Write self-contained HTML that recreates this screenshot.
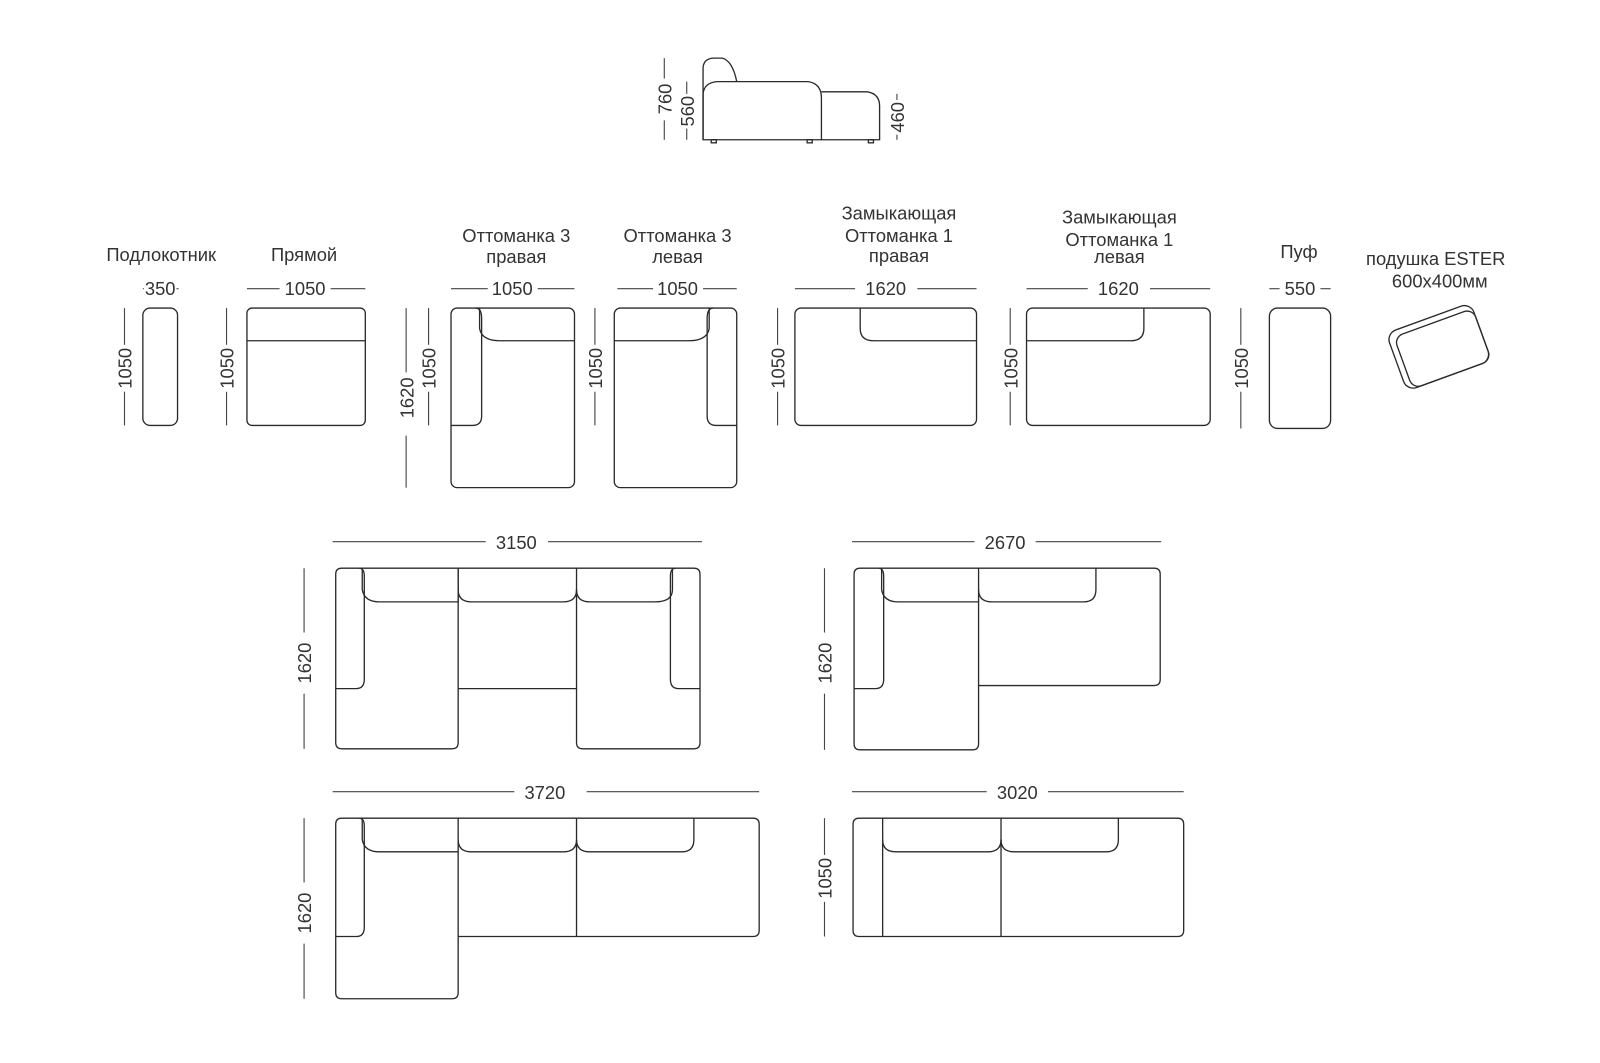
<!DOCTYPE html>
<html><head><meta charset="utf-8"><style>
html,body{margin:0;padding:0;background:#fff}
svg{display:block}
text{font-family:"Liberation Sans","DejaVu Sans",sans-serif;font-size:18px;fill:#333}
.s{fill:none;stroke:#2a2a2a;stroke-width:1.3}
.d{stroke:#444;stroke-width:1.1}
</style></head><body>
<svg width="1600" height="1063" viewBox="0 0 1568 1042" preserveAspectRatio="none" xmlns="http://www.w3.org/2000/svg">
<!-- side view -->
<path class="s" d="M689 137 L689 66 Q690 57 700 57 L708 57 Q718 60 722 80"/>
<path class="s" d="M689 137 L689 92 Q690 81 703 80 L792 80 Q805 82 805 96 L805 137 Z"/>
<path class="s" d="M805 90 L850 90 Q862 92 862 104 L862 137 L805 137"/>
<rect class="s" x="697" y="137" width="5" height="3"/><rect class="s" x="791" y="137" width="5" height="3"/><rect class="s" x="851" y="137" width="5" height="3"/>
<line class="d" x1="651" y1="57" x2="651" y2="77"/><line class="d" x1="651" y1="118" x2="651" y2="137"/>
<text transform="translate(658,97) rotate(-90)" text-anchor="middle">760</text>
<line class="d" x1="673" y1="80" x2="673" y2="92"/><line class="d" x1="673" y1="126" x2="673" y2="137"/>
<text transform="translate(680,109) rotate(-90)" text-anchor="middle">560</text>
<line class="d" x1="879" y1="92" x2="879" y2="98"/><line class="d" x1="879" y1="132" x2="879" y2="137"/>
<text transform="translate(886,115) rotate(-90)" text-anchor="middle">460</text>

<!-- labels -->
<text x="158" y="256" text-anchor="middle">Подлокотник</text>
<text x="298" y="256" text-anchor="middle">Прямой</text>
<text x="506" y="237" text-anchor="middle">Оттоманка 3</text><text x="506" y="258" text-anchor="middle">правая</text>
<text x="664" y="237" text-anchor="middle">Оттоманка 3</text><text x="664" y="258" text-anchor="middle">левая</text>
<text x="881" y="215" text-anchor="middle">Замыкающая</text><text x="881" y="237" text-anchor="middle">Оттоманка 1</text><text x="881" y="257" text-anchor="middle">правая</text>
<text x="1097" y="219" text-anchor="middle">Замыкающая</text><text x="1097" y="241" text-anchor="middle">Оттоманка 1</text><text x="1097" y="258" text-anchor="middle">левая</text>
<text x="1273" y="253" text-anchor="middle">Пуф</text>
<text x="1407" y="260" text-anchor="middle">подушка ESTER</text><text x="1411" y="282" text-anchor="middle">600x400мм</text>

<!-- top dims -->
<text x="157" y="289" text-anchor="middle">350</text><line class="d" x1="140" y1="283" x2="141" y2="283"/><line class="d" x1="173" y1="283" x2="175" y2="283"/>
<line class="d" x1="242" y1="283" x2="274" y2="283"/><line class="d" x1="324" y1="283" x2="358" y2="283"/><text x="299" y="289" text-anchor="middle">1050</text>
<line class="d" x1="442" y1="283" x2="478" y2="283"/><line class="d" x1="527" y1="283" x2="563" y2="283"/><text x="502" y="289" text-anchor="middle">1050</text>
<line class="d" x1="605" y1="283" x2="640" y2="283"/><line class="d" x1="689" y1="283" x2="722" y2="283"/><text x="664" y="289" text-anchor="middle">1050</text>
<line class="d" x1="779" y1="283" x2="838" y2="283"/><line class="d" x1="899" y1="283" x2="957" y2="283"/><text x="868" y="289" text-anchor="middle">1620</text>
<line class="d" x1="1006" y1="283" x2="1066" y2="283"/><line class="d" x1="1127" y1="283" x2="1186" y2="283"/><text x="1096" y="289" text-anchor="middle">1620</text>
<line class="d" x1="1244" y1="283" x2="1254" y2="283"/><line class="d" x1="1294" y1="283" x2="1304" y2="283"/><text x="1274" y="289" text-anchor="middle">550</text>

<!-- vertical dims -->
<g>
<line class="d" x1="122" y1="302" x2="122" y2="338"/><line class="d" x1="122" y1="384" x2="122" y2="417"/><text transform="translate(129,361) rotate(-90)" text-anchor="middle">1050</text>
<line class="d" x1="222" y1="302" x2="222" y2="338"/><line class="d" x1="222" y1="384" x2="222" y2="417"/><text transform="translate(229,361) rotate(-90)" text-anchor="middle">1050</text>
<line class="d" x1="398" y1="302" x2="398" y2="365"/><line class="d" x1="398" y1="427" x2="398" y2="478"/><text transform="translate(405,390) rotate(-90)" text-anchor="middle">1620</text>
<line class="d" x1="420" y1="302" x2="420" y2="338"/><line class="d" x1="420" y1="384" x2="420" y2="417"/><text transform="translate(427,361) rotate(-90)" text-anchor="middle">1050</text>
<line class="d" x1="583" y1="302" x2="583" y2="338"/><line class="d" x1="583" y1="384" x2="583" y2="417"/><text transform="translate(590,361) rotate(-90)" text-anchor="middle">1050</text>
<line class="d" x1="762" y1="302" x2="762" y2="338"/><line class="d" x1="762" y1="384" x2="762" y2="417"/><text transform="translate(769,361) rotate(-90)" text-anchor="middle">1050</text>
<line class="d" x1="990" y1="302" x2="990" y2="338"/><line class="d" x1="990" y1="384" x2="990" y2="417"/><text transform="translate(997,361) rotate(-90)" text-anchor="middle">1050</text>
<line class="d" x1="1216" y1="302" x2="1216" y2="338"/><line class="d" x1="1216" y1="384" x2="1216" y2="420"/><text transform="translate(1223,361) rotate(-90)" text-anchor="middle">1050</text>
</g>

<!-- top row modules -->
<rect class="s" x="140" y="302" width="34" height="115" rx="7"/>
<rect class="s" x="242" y="302" width="116" height="115" rx="5"/><path class="s" d="M242 334 L358 334"/>
<rect class="s" x="442" y="302" width="121" height="176" rx="6"/>
<path class="s" d="M442 417 L463 417 Q472 417 472 408 L472 312 Q472 302 466 302"/>
<path class="s" d="M470 302 L470 322 Q472 334 490 334 L563 334"/>
<rect class="s" x="602" y="302" width="120" height="176" rx="6"/>
<path class="s" d="M722 417 L702 417 Q693 417 693 408 L693 312 Q693 302 699 302"/>
<path class="s" d="M695 302 L695 322 Q693 334 675 334 L602 334"/>
<rect class="s" x="779" y="302" width="178" height="115" rx="6"/>
<path class="s" d="M843 302 L843 322 Q843 334 856 334 L957 334"/>
<rect class="s" x="1006" y="302" width="180" height="115" rx="6"/>
<path class="s" d="M1121 302 L1121 322 Q1121 334 1108 334 L1006 334"/>
<rect class="s" x="1244" y="302" width="60" height="118" rx="8"/>
<g transform="translate(1410,340) rotate(-20)">
<rect class="s" x="-44" y="-30" width="88" height="60" rx="10"/>
<rect class="s" x="-38" y="-24" width="82" height="54" rx="9"/>
</g>

<!-- combo 1 : 3150 -->
<line class="d" x1="326" y1="531" x2="476" y2="531"/><line class="d" x1="537" y1="531" x2="688" y2="531"/><text x="506" y="538" text-anchor="middle">3150</text>
<line class="d" x1="298" y1="557" x2="298" y2="620"/><line class="d" x1="298" y1="680" x2="298" y2="734"/><text transform="translate(305,650) rotate(-90)" text-anchor="middle">1620</text>
<path class="s" d="M335 557 L680 557 Q686 557 686 563 L686 728 Q686 734 680 734 L571 734 Q565 734 565 728 L565 675 L449 675 L449 728 Q449 734 443 734 L335 734 Q329 734 329 728 L329 563 Q329 557 335 557 Z"/>
<path class="s" d="M329 675 L349 675 Q357 675 357 666 L357 565 Q357 557 352 557"/>
<path class="s" d="M355 557 L355 578 Q357 590 372 590 L449 590 L449 557"/>
<path class="s" d="M449 557 L449 675 M565 557 L565 675"/>
<path class="s" d="M449 578 Q449 590 462 590 L552 590 Q565 590 565 578"/>
<path class="s" d="M686 675 L665 675 Q657 675 657 666 L657 565 Q657 557 662 557"/>
<path class="s" d="M565 578 Q565 590 578 590 L642 590 Q659 590 659 578 L659 557"/>

<!-- combo 2 : 2670 -->
<line class="d" x1="835" y1="531" x2="955" y2="531"/><line class="d" x1="1015" y1="531" x2="1138" y2="531"/><text x="985" y="538" text-anchor="middle">2670</text>
<line class="d" x1="808" y1="557" x2="808" y2="620"/><line class="d" x1="808" y1="680" x2="808" y2="735"/><text transform="translate(815,650) rotate(-90)" text-anchor="middle">1620</text>
<path class="s" d="M843 557 L1131 557 Q1137 557 1137 563 L1137 666 Q1137 672 1131 672 L959 672 L959 729 Q959 735 953 735 L843 735 Q837 735 837 729 L837 563 Q837 557 843 557 Z"/>
<path class="s" d="M837 675 L858 675 Q866 675 866 666 L866 565 Q866 557 861 557"/>
<path class="s" d="M864 557 L864 578 Q866 590 880 590 L959 590 L959 557 L959 672"/>
<path class="s" d="M959 578 Q959 590 972 590 L1062 590 Q1074 590 1074 578 L1074 557"/>

<!-- combo 3 : 3720 -->
<line class="d" x1="326" y1="776" x2="504" y2="776"/><line class="d" x1="575" y1="776" x2="744" y2="776"/><text x="534" y="783" text-anchor="middle">3720</text>
<line class="d" x1="298" y1="802" x2="298" y2="865"/><line class="d" x1="298" y1="925" x2="298" y2="979"/><text transform="translate(305,895) rotate(-90)" text-anchor="middle">1620</text>
<path class="s" d="M335 802 L738 802 Q744 802 744 808 L744 912 Q744 918 738 918 L449 918 L449 973 Q449 979 443 979 L335 979 Q329 979 329 973 L329 808 Q329 802 335 802 Z"/>
<path class="s" d="M329 918 L349 918 Q357 918 357 909 L357 810 Q357 802 352 802"/>
<path class="s" d="M355 802 L355 823 Q357 835 372 835 L449 835 L449 802 L449 918"/>
<path class="s" d="M449 823 Q449 835 462 835 L552 835 Q565 835 565 823 L565 802 L565 918"/>
<path class="s" d="M565 823 Q565 835 578 835 L668 835 Q680 835 680 823 L680 802"/>

<!-- combo 4 : 3020 -->
<line class="d" x1="835" y1="776" x2="967" y2="776"/><line class="d" x1="1027" y1="776" x2="1160" y2="776"/><text x="997" y="783" text-anchor="middle">3020</text>
<line class="d" x1="808" y1="802" x2="808" y2="838"/><line class="d" x1="808" y1="884" x2="808" y2="918"/><text transform="translate(815,861) rotate(-90)" text-anchor="middle">1050</text>
<path class="s" d="M842 802 L1154 802 Q1160 802 1160 808 L1160 912 Q1160 918 1154 918 L842 918 Q836 918 836 912 L836 808 Q836 802 842 802 Z"/>
<path class="s" d="M865 802 L865 918 M981 802 L981 918"/>
<path class="s" d="M865 823 Q865 835 878 835 L968 835 Q981 835 981 823"/>
<path class="s" d="M981 823 Q981 835 994 835 L1084 835 Q1096 835 1096 823 L1096 802"/>
</svg>
</body></html>
